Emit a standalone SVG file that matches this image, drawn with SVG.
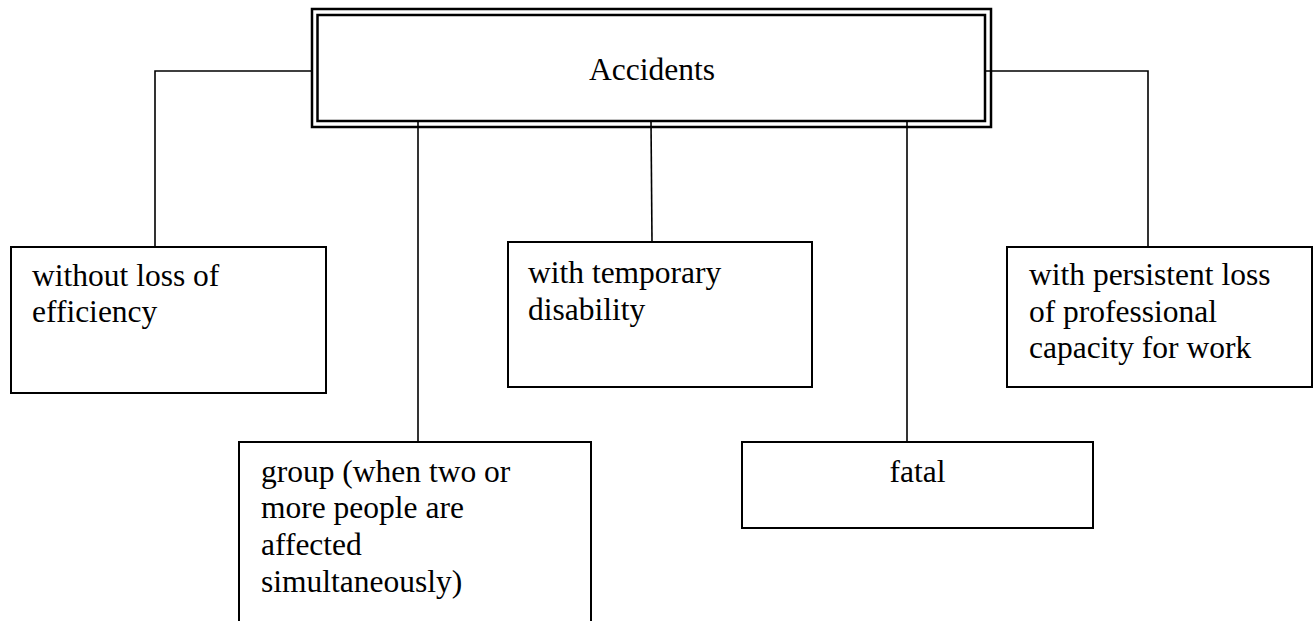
<svg xmlns="http://www.w3.org/2000/svg" width="1315" height="621" viewBox="0 0 1315 621">
  <style>
    .box { fill: #ffffff; stroke: #000000; stroke-width: 2; }
    .dbl { fill: none; stroke: #000000; stroke-width: 2.5; }
    .conn { fill: none; stroke: #000000; stroke-width: 1.6; }
    text { font-family: "Liberation Serif", "Times New Roman", serif; font-size: 31.5px; fill: #000000; }
  </style>
  <rect x="0" y="0" width="1315" height="621" fill="#ffffff"/>
  <g id="connectors">
    <polyline class="conn" points="313,71 155,71 155,247"/>
    <line class="conn" x1="651" y1="121" x2="652" y2="242"/>
    <line class="conn" x1="418" y1="121" x2="418" y2="442"/>
    <line class="conn" x1="907" y1="121" x2="907" y2="442"/>
    <polyline class="conn" points="986,71 1148,71 1148,247"/>
  </g>
  <g id="accidents">
    <rect x="312" y="9" width="679" height="118" fill="#ffffff" class="dbl"/>
    <rect x="317.5" y="15" width="667.5" height="106" class="dbl" stroke-width="2"/>
    <text x="652" y="80" text-anchor="middle">Accidents</text>
  </g>
  <g id="without-loss">
    <rect class="box" x="11" y="247" width="315" height="146"/>
    <text x="32" y="286">without loss of</text>
    <text x="32" y="322">efficiency</text>
  </g>
  <g id="temporary">
    <rect class="box" x="508" y="242" width="304" height="145"/>
    <text x="528" y="283">with temporary</text>
    <text x="528" y="320">disability</text>
  </g>
  <g id="persistent">
    <rect class="box" x="1007" y="247" width="305" height="140"/>
    <text x="1029" y="285">with persistent loss</text>
    <text x="1029" y="322">of professional</text>
    <text x="1029" y="358">capacity for work</text>
  </g>
  <g id="group">
    <rect class="box" x="239" y="442" width="352" height="200"/>
    <text x="261" y="482">group (when two or</text>
    <text x="261" y="518">more people are</text>
    <text x="261" y="555">affected</text>
    <text x="261" y="592">simultaneously)</text>
  </g>
  <g id="fatal">
    <rect class="box" x="742" y="442" width="351" height="86"/>
    <text x="917.5" y="482" text-anchor="middle">fatal</text>
  </g>
</svg>
